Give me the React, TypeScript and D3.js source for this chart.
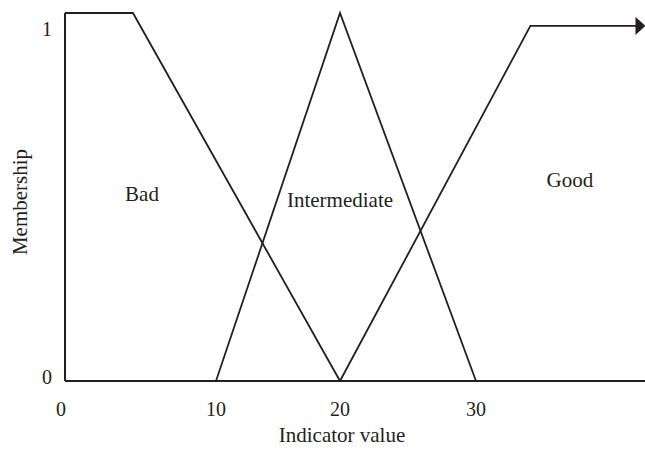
import * as d3 from 'd3'
import React, { useRef, useEffect } from 'react'

// membership functions: [indicator value, membership]
const bad: [number, number][] = [
  [0, 1],
  [4.5, 1],
  [20, 0],
]
const intermediate: [number, number][] = [
  [10, 0],
  [20, 1],
  [30, 0],
]
const good: [number, number][] = [
  [20, 0],
  [34, 0.965],
  [41.8, 0.965],
]
const xTicks = [0, 10, 20, 30]
const yTicks = [0, 1]
const setLabels = [
  { name: 'Bad', x: 5.1, y: 0.49 },
  { name: 'Intermediate', x: 20, y: 0.473 },
  { name: 'Good', x: 36.9, y: 0.527 },
]

const App = () => {
  const ref = useRef(null)

  useEffect(() => {
    draw()
  }, [])

  const draw = () => {
    const svg = d3.select(ref.current)
    svg.selectAll('*').remove()

    // the figure is schematic, spacing of ticks isn't uniform
    const x = d3.scaleLinear().domain([0, 10, 20, 30]).range([65, 216, 340, 476])
    const y = d3.scaleLinear().domain([0, 1]).range([381, 13])
    const font = '"Liberation Serif", "Times New Roman", serif'
    const ink = '#231f20'

    svg
      .append('defs')
      .append('marker')
      .attr('id', 'arrow')
      .attr('viewBox', '0 0 10 18')
      .attr('refX', 1)
      .attr('refY', 9)
      .attr('markerUnits', 'userSpaceOnUse')
      .attr('markerWidth', 10)
      .attr('markerHeight', 18)
      .attr('orient', 'auto')
      .append('path')
      .attr('d', 'M0,0 L10,9 L0,18 Z')
      .attr('fill', ink)

    // axes
    svg
      .append('line')
      .attr('x1', x(0))
      .attr('x2', 645)
      .attr('y1', y(0))
      .attr('y2', y(0))
      .attr('stroke', ink)
      .attr('stroke-width', 2)
    svg
      .append('line')
      .attr('x1', x(0))
      .attr('x2', x(0))
      .attr('y1', y(0))
      .attr('y2', y(1))
      .attr('stroke', ink)
      .attr('stroke-width', 2)

    const line = d3
      .line<[number, number]>()
      .x((d) => x(d[0]))
      .y((d) => y(d[1]))

    ;[bad, intermediate, good].forEach((s, i) => {
      svg
        .append('path')
        .datum(s)
        .attr('fill', 'none')
        .attr('stroke', ink)
        .attr('stroke-width', 1.8)
        .attr('stroke-linejoin', 'miter')
        .attr('marker-end', i === 2 ? 'url(#arrow)' : null)
        .attr('d', line)
    })

    const text = (s: string, px: number, py: number, size = 21) =>
      svg
        .append('text')
        .attr('x', px)
        .attr('y', py)
        .attr('text-anchor', 'middle')
        .attr('font-family', font)
        .attr('font-size', size)
        .attr('fill', ink)
        .text(s)

    xTicks.forEach((t) => text(String(t), x(t) - (t === 0 ? 4 : 0), 416, 20))
    yTicks.forEach((t) => text(String(t), 47, y(t) + (t === 0 ? 3 : 23), 20))

    setLabels.forEach((l) => text(l.name, x(l.x), y(l.y)))

    text('Indicator value', 342, 442)
    text('Membership', 0, 0).attr('transform', 'translate(27,202) rotate(-90)')
  }

  return <svg ref={ref} width={645} height={450} style={{ position: 'absolute', left: 0, top: 0, background: '#fff' }} />
}

export default App
